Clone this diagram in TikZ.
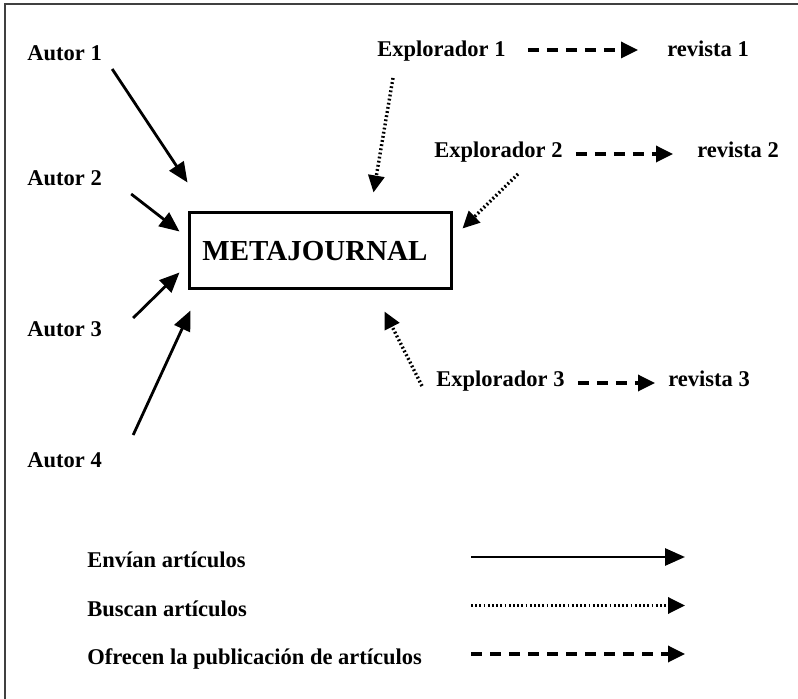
\documentclass[tikz,border=0pt]{standalone}
\usepackage{fontspec}
\setmainfont{Liberation Serif}
\usetikzlibrary{arrows.meta}

\tikzset{
  lbl/.style={font={\fontsize{11.25}{13}\selectfont\bfseries}, black, inner sep=0pt, anchor=base west},
  envia/.style={line width=1.4pt, -{Triangle[length=10pt,width=8.5pt]}},
  busca/.style={line width=1.7pt, dash pattern=on 0.9pt off 1.2pt, -{Triangle[length=8.5pt,width=8pt]}},
  ofrece/.style={line width=1.7pt, dash pattern=on 5.5pt off 4pt, -{Triangle[length=8.5pt,width=8pt]}},
}

\begin{document}
\begin{tikzpicture}[x=0.5pt,y=-0.5pt]
        \useasboundingbox (0,0) rectangle (798,699);
        \draw[line width=1pt, black!75] (4.5,699) -- (4.5,4.5) -- (798,4.5);
        \node[draw, line width=1.5pt, minimum width=131pt, minimum height=38pt, inner sep=0pt,
              font={\fontsize{14.5}{16}\selectfont\bfseries}] (meta) at (320,251) {\hspace*{-5pt}\raisebox{-1pt}{METAJOURNAL}};
        \node[lbl] (a1) at (27,61) {Autor 1};
        \node[lbl] (a2) at (27,186) {Autor 2};
        \node[lbl] (a3) at (27,337) {Autor 3};
        \node[lbl] (a4) at (27,468) {Autor 4};
        \node[lbl] (e1) at (377,57) {Explorador 1};
        \node[lbl] (e2) at (434,158) {Explorador 2};
        \node[lbl] (e3) at (436,387) {Explorador 3};
        \node[lbl] (r1) at (667,57) {revista 1};
        \node[lbl] (r2) at (697,158) {revista 2};
        \node[lbl] (r3) at (668,387) {revista 3};
        \draw[envia] ([shift={(10,8)}]a1.base east) -- ([shift={(0,-29)}]meta.north west);
        \draw[envia] ([shift={(29,8)}]a2.base east) -- ([shift={(-8,20)}]meta.north west);
        \draw[envia] ([shift={(31,-19)}]a3.base east) -- ([shift={(-8,-18)}]meta.south west);
        \draw[envia] ([shift={(31,-33)}]a4.base east) -- ([shift={(3,20)}]meta.south west);
        \draw[busca] ([shift={(16,21)}]e1.base west) -- ([shift={(-79,-19)}]meta.north east);
        \draw[busca] ([shift={(84,16)}]e2.base west) -- ([shift={(10,17)}]meta.north east);
        \draw[busca] ([shift={(-14,-1)}]e3.base west) -- ([shift={(-68,21)}]meta.south east);
        \draw[ofrece] ([shift={(22,-7)}]e1.base east) -- ([shift={(-29,-7)}]r1.base west);
        \draw[ofrece] ([shift={(13,-4)}]e2.base east) -- ([shift={(-24,-4)}]r2.base west);
        \draw[ofrece] ([shift={(13,-4)}]e3.base east) -- ([shift={(-13,-4)}]r3.base west);
        \node[lbl] (l1) at (87,568) {Envían artículos};
        \node[lbl] (l2) at (87,616.5) {Buscan artículos};
        \node[lbl] (l3) at (87,665) {Ofrecen la publicación de artículos};
        \coordinate (s1) at (471,557);
        \coordinate (t1) at (685,557);
        \coordinate (s2) at (471,605.5);
        \coordinate (t2) at (685,605.5);
        \coordinate (s3) at (471,654);
        \coordinate (t3) at (685,654);
        \draw[envia] (s1) -- (t1);
        \draw[busca] (s2) -- (t2);
        \draw[ofrece] (s3) -- (t3);
    \end{tikzpicture}
\end{document}
